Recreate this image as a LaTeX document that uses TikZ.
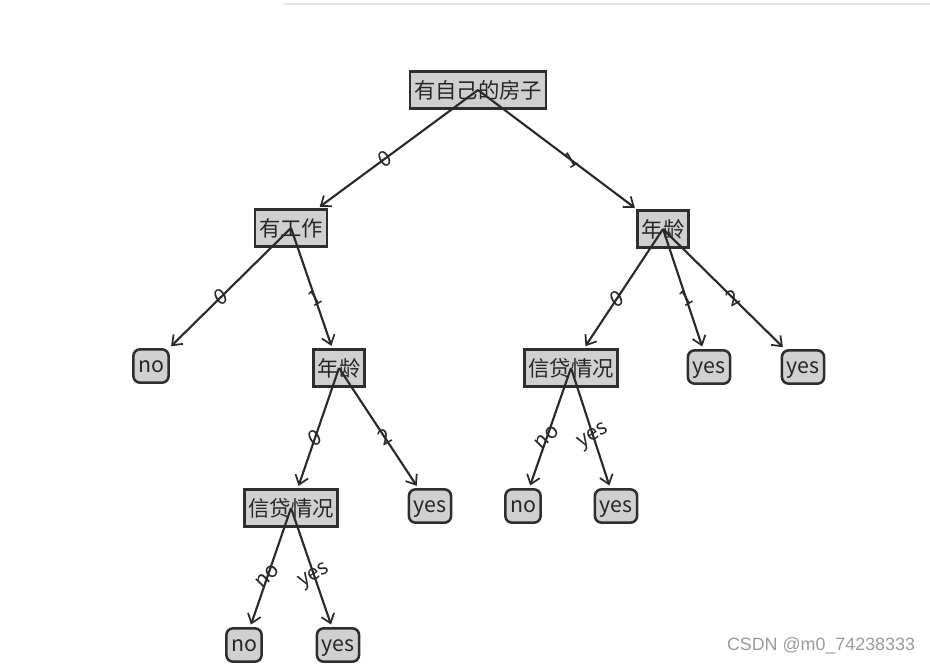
\documentclass[tikz,border=0pt]{standalone}
\usepackage{fontspec}
\setmainfont{Noto Sans CJK SC}
\newfontfamily\wmfont{Liberation Sans}
\usetikzlibrary{arrows.meta}
\definecolor{boxfill}{HTML}{D0D0D0}
\definecolor{boxline}{HTML}{2E2E2E}
\definecolor{edgecol}{HTML}{2A2A2A}
\definecolor{wmgray}{HTML}{9A9A9A}
\definecolor{topline}{HTML}{E6E6E6}
\begin{document}
\begin{tikzpicture}[x=0.75pt,y=-0.75pt,
  inner/.style={draw=boxline, fill=boxfill, line width=1.9pt, minimum height=27.5pt,
    inner xsep=3pt, inner ysep=0pt, font=\fontsize{16}{18}\selectfont, text=black!85},
  leaf/.style={inner, rounded corners=5pt, minimum height=25pt, inner xsep=3.5pt,
    text height=11pt, text depth=1pt},
  edge/.style={draw=edgecol, line width=1.6pt,
    -{Straight Barb[length=6.5pt,width=10pt,line width=1.3pt]}, shorten >=2pt},
  lbl/.style={font=\fontsize{16}{18}\selectfont, text=edgecol, inner sep=0pt}]
\useasboundingbox (0,0) rectangle (930,664);
\draw[draw=topline, line width=1.5pt] (284,4) -- (930,4);

\node[inner] (root) at (478,90) {有自己的房子};
\node[inner] (job) at (291,228) {有工作};
\node[inner] (ageR) at (663,229) {年龄};
\node[leaf] (no1) at (151,366) {no};
\node[inner] (ageM) at (339,368) {年龄};
\node[inner] (credR) at (571,368) {信贷情况};
\node[leaf] (yes1) at (709,367) {yes};
\node[leaf] (yes2) at (803,367) {yes};
\node[inner] (credL) at (291,508) {信贷情况};
\node[leaf] (yes3) at (430,506) {yes};
\node[leaf] (no2) at (523,506) {no};
\node[leaf] (yes4) at (616,506) {yes};
\node[leaf] (no3) at (244,645) {no};
\node[leaf] (yes5) at (338,645) {yes};

\foreach \p/\c/\t/\r in {root/job/0/30, root/ageR/1/30, job/no1/0/30, job/ageM/1/30,
    ageR/credR/0/30, ageR/yes1/1/30, ageR/yes2/2/30, ageM/credL/0/30, ageM/yes3/2/30,
    credR/no2/no/45, credR/yes4/yes/30, credL/no3/no/45, credL/yes5/yes/30}{
  \draw[edge] (\p.center) -- (\c);
  \path (\p.center) -- (\c.center) node[midway, lbl, rotate=\r] {\t};
}

\node[font=\wmfont\fontsize{13.4}{15}\selectfont, text=wmgray] (wm) at (821,646) {CSDN @m0\_74238333};
\end{tikzpicture}
\end{document}
